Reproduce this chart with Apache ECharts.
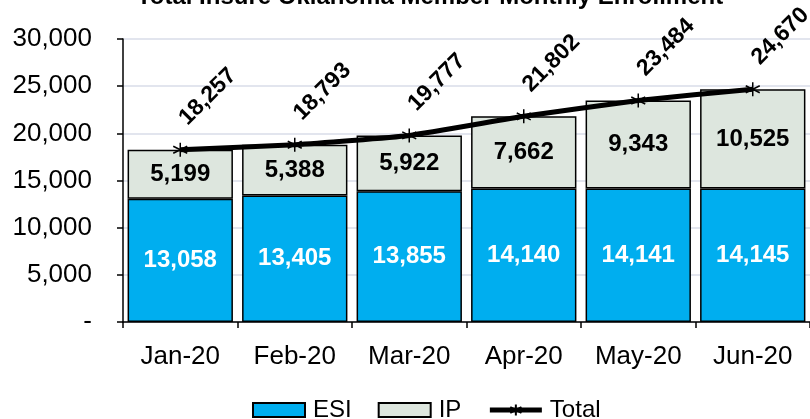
<!DOCTYPE html>
<html>
<head>
<meta charset="utf-8">
<script src="https://cdn.jsdelivr.net/npm/echarts@6/dist/echarts.min.js"></script>
<style>html,body{margin:0;padding:0;background:#fff;}#c{width:810px;height:419px;}</style>
</head>
<body>
<div id="c"></div>
<script>
var categories = ['Jan-20', 'Feb-20', 'Mar-20', 'Apr-20', 'May-20', 'Jun-20'];
var esi = [13058, 13405, 13855, 14140, 14141, 14145];
var ip = [5199, 5388, 5922, 7662, 9343, 10525];
var total = [18257, 18793, 19777, 21802, 23484, 24670];
var yTickLabels = ['-', '5,000', '10,000', '15,000', '20,000', '25,000', '30,000'];
var titleText = 'Total Insure Oklahoma Member Monthly Enrollment';

var FONT = 'Liberation Sans, Arial, sans-serif';
function fmt(v) { return String(v).replace(/\B(?=(\d{3})+(?!\d))/g, ','); }

var chart = echarts.init(document.getElementById('c'), null, { renderer: 'canvas' });
var star = 'path://M5,0L5,10M0.7,2.5L9.3,7.5M0.7,7.5L9.3,2.5';
chart.setOption({
  animation: false,
  backgroundColor: '#fff',
  title: {
    text: titleText, left: 425, textAlign: 'center', top: -20,
    textStyle: { fontFamily: FONT, fontSize: 24, fontWeight: 'bold', color: '#000' }
  },
  legend: {
    left: 252, top: 398, padding: 0, itemWidth: 52, itemHeight: 14, itemGap: 26,
    textStyle: { fontFamily: FONT, fontSize: 24, color: '#000', padding: [0, 0, 0, 3] },
    data: [
      { name: 'ESI', icon: 'rect' },
      { name: 'IP', icon: 'rect' },
      { name: 'Total', lineStyle: { width: 5, color: '#000' } }
    ]
  },
  grid: { left: 123, right: -12, top: 39, bottom: 97, containLabel: false },
  xAxis: {
    type: 'category', data: categories,
    axisLine: { lineStyle: { color: '#000', width: 1.5 } },
    axisTick: { show: true, length: 6, lineStyle: { color: '#000', width: 1.5 } },
    axisLabel: { fontFamily: FONT, fontSize: 26, color: '#000', margin: 22 },
    splitLine: { show: false }
  },
  yAxis: {
    type: 'value', min: 0, max: 30000, interval: 5000,
    axisLine: { show: true, lineStyle: { color: '#000', width: 1.5 } },
    axisTick: { show: true, length: 6, lineStyle: { color: '#000', width: 1.5 } },
    axisLabel: {
      fontFamily: FONT, fontSize: 26, color: '#000', margin: 31,
      formatter: function (v) { return yTickLabels[Math.round(v / 5000)]; }
    },
    splitLine: { show: true, lineStyle: { color: '#d9dce8', width: 1.5 } }
  },
  series: [
    {
      name: 'ESI', type: 'bar', stack: 'a', data: esi, barCategoryGap: '8%',
      itemStyle: { color: '#00aeef', borderColor: '#000', borderWidth: 1.5 },
      label: { show: true, position: 'inside', color: '#fff', fontFamily: FONT, fontSize: 24, fontWeight: 'bold',
        formatter: function (p) { return fmt(p.value); } }
    },
    {
      name: 'IP', type: 'bar', stack: 'a', data: ip,
      itemStyle: { color: '#dde6de', borderColor: '#000', borderWidth: 1.5 },
      label: { show: true, position: 'inside', color: '#000', fontFamily: FONT, fontSize: 24, fontWeight: 'bold',
        formatter: function (p) { return fmt(p.value); } }
    },
    {
      name: 'Total', type: 'line', data: total, smooth: 0.15, z: 5,
      symbol: star, symbolSize: 14,
      lineStyle: { color: '#000', width: 5 },
      itemStyle: { color: '#000', borderColor: '#000', borderWidth: 1.5 },
      label: { show: true, position: 'inside', align: 'center', verticalAlign: 'middle', rotate: 45,
        offset: [57, -18], color: '#000', fontFamily: FONT, fontSize: 23, fontWeight: 'bold',
        formatter: function (p) { return fmt(p.value); } }
    }
  ]
});
</script>
</body>
</html>
